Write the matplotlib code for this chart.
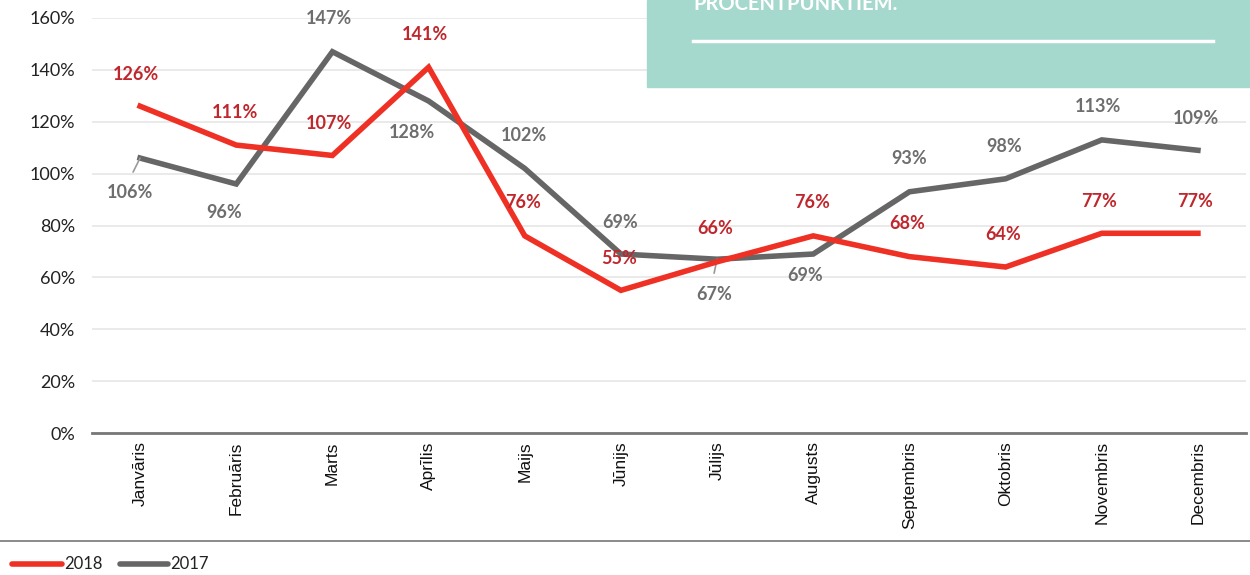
import matplotlib
matplotlib.use('Agg')
import matplotlib.pyplot as plt
from matplotlib.lines import Line2D

# Data
months = ['Janvāris', 'Februāris', 'Marts', 'Aprīlis', 'Maijs', 'Jūnijs',
          'Jūlijs', 'Augusts', 'Septembris', 'Oktobris', 'Novembris', 'Decembris']
vals_2018 = [126, 111, 107, 141, 76, 55, 66, 76, 68, 64, 77, 77]
vals_2017 = [106, 96, 147, 128, 102, 69, 67, 69, 93, 98, 113, 109]

# label offsets in pixels (dx, dy), positive dy = up
off_2018 = [(-4, 32), (-1, 33), (-3, 32), (-4, 33), (-2, 33), (-2, 32),
            (-2, 33), (-1, 33), (-2, 33), (-2, 32), (-3, 32), (-3, 32)]
off_2017 = [(-10, -34), (-12, -28), (-3, 33), (-17, -32), (-1, 33), (-1, 32),
            (-3, -35), (-8, -21), (0, 33), (-1, 32), (-4, 33), (-2, 32)]
leader_2017 = [0, 6]

RED = '#ee3124'
RED_TXT = '#c0272d'
GRAY = '#666666'
GRAY_TXT = '#6e6e6e'
TEAL = '#a6d9cd'

fig = plt.figure(figsize=(12.5, 5.75), dpi=100)
ax = fig.add_axes([92 / 1250, 1 - 433 / 575, 1154 / 1250, 415 / 575])

x = list(range(len(months)))
ax.plot(x, vals_2017, color=GRAY, lw=4, solid_joinstyle='miter', zorder=3)
ax.plot(x, vals_2018, color=RED, lw=4, solid_joinstyle='miter', zorder=4)

lab_font = dict(family='Lato', fontsize=13, fontweight='bold')
for i in x:
    dx, dy = off_2018[i]
    ax.annotate(f'{vals_2018[i]}%', (i, vals_2018[i]), xytext=(dx, dy),
                textcoords='offset pixels', ha='center', va='center',
                color=RED_TXT, zorder=6, **lab_font)
    dx, dy = off_2017[i]
    ax.annotate(f'{vals_2017[i]}%', (i, vals_2017[i]), xytext=(dx, dy),
                textcoords='offset pixels', ha='center', va='center',
                color=GRAY_TXT, zorder=6, **lab_font)
    if i in leader_2017:
        ax.annotate('', (i, vals_2017[i]), xytext=(dx * 0.7 if dx < -5 else dx, -14),
                    textcoords='offset pixels',
                    arrowprops=dict(arrowstyle='-', color='#999999', lw=1.2,
                                    shrinkA=0, shrinkB=0))

ax.set_xlim(-0.5, 11.5)
ax.set_ylim(0, 160)
ax.set_yticks(range(0, 161, 20))
ax.set_yticklabels([f'{v}%' for v in range(0, 161, 20)], family='Lato', fontsize=13, color='#222222')
ax.set_xticks(x)
ax.set_xticklabels(months, rotation=90, family='Liberation Sans', fontsize=12.5, color='#111111')
ax.tick_params(axis='both', length=0, pad=12)
ax.tick_params(axis='x', pad=6)
ax.grid(axis='y', color='#e6e6e6', lw=1.2)
ax.set_axisbelow(True)
for s in ['top', 'right', 'left']:
    ax.spines[s].set_visible(False)
ax.spines['bottom'].set_color('#777777')
ax.spines['bottom'].set_linewidth(2)

# teal info box in the top right corner
fig.patches.append(plt.Rectangle((647 / 1250, 1 - 87 / 575), 603 / 1250, 87 / 575,
                                 transform=fig.transFigure, color=TEAL, zorder=10))
fig.text(693 / 1250, 1 - 4 / 575, 'PROCENTPUNKTIEM.', color='white', fontsize=14.5,
         fontweight='bold', family='Lato', ha='left', va='center', zorder=11)
fig.add_artist(Line2D([693 / 1250, 1213 / 1250], [1 - 41 / 575] * 2, color='white',
                      lw=2.5, transform=fig.transFigure, zorder=11))

# bottom separator and legend
fig.add_artist(Line2D([0, 1], [1 - 541 / 575] * 2, color='#777777', lw=1.2,
                      transform=fig.transFigure))
fig.add_artist(Line2D([12 / 1250, 62 / 1250], [1 - 564 / 575] * 2, color=RED, lw=4,
                      solid_capstyle='round', transform=fig.transFigure))
fig.text(64 / 1250, 1 - 564 / 575, '2018', fontsize=12, family='Lato', va='center', color='#222222')
fig.add_artist(Line2D([120 / 1250, 168 / 1250], [1 - 564 / 575] * 2, color=GRAY, lw=4,
                      solid_capstyle='round', transform=fig.transFigure))
fig.text(170 / 1250, 1 - 564 / 575, '2017', fontsize=12, family='Lato', va='center', color='#222222')

fig.savefig('out.png', dpi=100)
